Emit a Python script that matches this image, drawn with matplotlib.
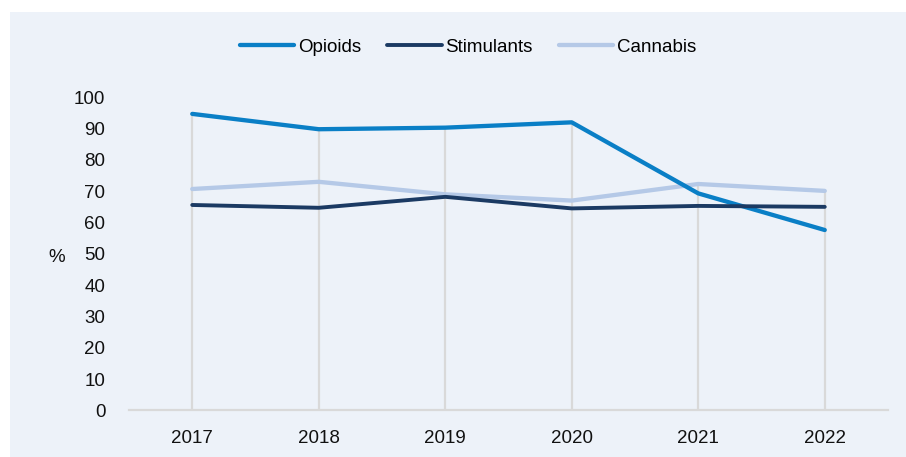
import matplotlib.pyplot as plt
from matplotlib.patches import Rectangle
import numpy as np

plt.rcParams['font.family'] = ['Liberation Sans', 'DejaVu Sans']

# Share of cases (%) by year and drug group
anos = ['2017', '2018', '2019', '2020', '2021', '2022']
opioides = [94.7, 89.8, 90.3, 92.0, 69.3, 57.6]
estimulantes = [65.6, 64.7, 68.2, 64.5, 65.3, 65.0]
cannabis = [70.7, 73.0, 69.0, 67.0, 72.3, 70.1]

fundo = '#edf2f9'
cor_opioides = '#0a7fc6'
cor_estimulantes = '#1b3a63'
cor_cannabis = '#b5c9e7'

fig = plt.figure(figsize=(9.06, 4.57), dpi=100)
fig.patch.set_facecolor('white')
# painel de fundo azul claro
fig.patches.append(Rectangle((10 / 906, 0), 1, 1 - 12 / 457, transform=fig.transFigure,
                             facecolor=fundo, edgecolor='none', zorder=-10))

ax = fig.add_axes([129 / 906, (457 - 410.3) / 457, (888 - 129) / 906, (410.3 - 97.3) / 457])
ax.set_facecolor('none')

x = np.arange(len(anos))

# linhas verticais do eixo até o ponto mais alto de cada ano
topo = np.max([opioides, estimulantes, cannabis], axis=0)
ax.vlines(x, 0, topo, color='#d9d9d9', linewidth=1.6, zorder=1)

ax.plot(x, opioides, color=cor_opioides, linewidth=3.1, label='Opioids', zorder=3,
        solid_capstyle='round')
ax.plot(x, estimulantes, color=cor_estimulantes, linewidth=2.8, label='Stimulants', zorder=3,
        solid_capstyle='round')
ax.plot(x, cannabis, color=cor_cannabis, linewidth=3.1, label='Cannabis', zorder=2,
        solid_capstyle='round')

ax.set_xlim(-0.5, len(anos) - 0.5)
ax.set_ylim(0, 100)
ax.set_xticks(x)
ax.set_xticklabels(anos)
ax.set_yticks(np.arange(0, 101, 10))

for lado in ['top', 'right', 'left']:
    ax.spines[lado].set_visible(False)
ax.spines['bottom'].set_color('#d9d9d9')
ax.spines['bottom'].set_linewidth(1.6)

ax.tick_params(axis='both', length=0, labelsize=13.5, colors='#111111')
ax.tick_params(axis='x', pad=14)
ax.tick_params(axis='y', pad=17)

fig.text(57 / 906, 1 - 257 / 457, '%', fontsize=13.5, ha='center', va='center', color='#111111')

leg = ax.legend(loc='center', ncol=3, frameon=False, fontsize=13.5, handlelength=2.9,
                handletextpad=0.2, columnspacing=1.4,
                bbox_to_anchor=(468 / 906, 1 - 47 / 457), bbox_transform=fig.transFigure)

fig.savefig('out.png', dpi=100, facecolor=fig.get_facecolor())
